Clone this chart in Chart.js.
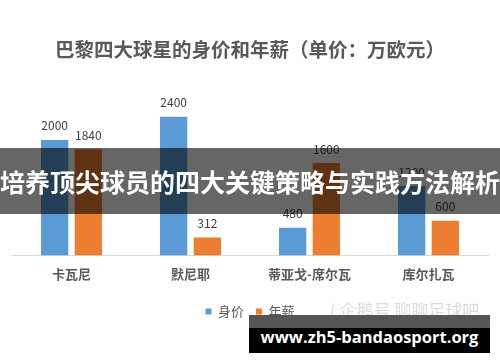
<!DOCTYPE html>
<html>
<head>
<meta charset="utf-8">
<script src="https://cdn.jsdelivr.net/npm/chart.js@4"></script>
<style>
  html, body { margin: 0; padding: 0; background: #fff; }
  #wrap { position: relative; width: 500px; height: 362px; overflow: hidden; }
  #chart { position: absolute; left: 0; top: 0; }
  .banner {
    position: absolute; left: 0; top: 148px; width: 500px; height: 66px;
    background: rgba(0,0,0,0.6); color: #fff;
    font: bold 25px "Noto Sans CJK SC"; line-height: 66px; text-align: center; white-space: nowrap;
  }
  .mark {
    position: absolute; left: 330px; top: 299px; color: #dcdcdc;
    font: 17px "Noto Sans CJK SC"; line-height: 22px; white-space: nowrap;
  }
  .url {
    position: absolute; left: 249px; top: 315px; width: 241px; height: 38px;
    background: linear-gradient(#555 0, #555 13px, #000 13px);
    color: #fff; font: bold 16.5px "Open Sans"; line-height: 44px; text-align: center; white-space: nowrap;
  }
</style>
</head>
<body>
<div id="wrap">
  <canvas id="chart" width="500" height="362"></canvas>
  <div class="mark">( 企鹅号 聊聊足球吧</div>
  <div class="banner">培养顶尖球员的四大关键策略与实践方法解析</div>
  <div class="url">www.zh5-bandaosport.org</div>
</div>
<script>
// chart data
const players = ["卡瓦尼", "默尼耶", "蒂亚戈-席尔瓦", "库尔扎瓦"];
const marketValue = [2000, 2400, 480, 1200];   // 身价
const salary = [1840, 312, 1600, 600];          // 年薪
const seriesNames = ["身价", "年薪"];

const FONT = '"Noto Sans CJK SC"';

// value labels over each bar
const valueLabels = {
  id: "valueLabels",
  afterDatasetsDraw(chart) {
    const ctx = chart.ctx;
    ctx.save();
    ctx.font = "12px " + FONT;
    ctx.fillStyle = "#404040";
    ctx.textAlign = "center";
    ctx.textBaseline = "middle";
    chart.data.datasets.forEach((ds, i) => {
      chart.getDatasetMeta(i).data.forEach((bar, j) => {
        ctx.fillText(ds.data[j], bar.x, bar.y - 14);
      });
    });
    ctx.restore();
  }
};

new Chart(document.getElementById("chart").getContext("2d"), {
  type: "bar",
  data: {
    labels: players,
    datasets: [
      { label: seriesNames[0], data: marketValue, backgroundColor: "#5b9bd5",
        categoryPercentage: 0.566, barPercentage: 0.81 },
      { label: seriesNames[1], data: salary, backgroundColor: "#ed7d31",
        categoryPercentage: 0.566, barPercentage: 0.81 }
    ]
  },
  options: {
    responsive: false,
    animation: false,
    layout: { padding: { left: 12, right: 12, top: 0, bottom: 34 } },
    plugins: {
      title: {
        display: true,
        text: "巴黎四大球星的身价和年薪（单价：万欧元）",
        color: "#595959",
        font: { family: FONT, size: 19.5, weight: "bold" },
        padding: { top: 38.3, bottom: 32 }
      },
      legend: {
        position: "bottom",
        labels: {
          boxWidth: 6, boxHeight: 6, padding: 12, color: "#595959",
          font: { family: FONT, size: 13 }
        }
      },
      tooltip: { enabled: false }
    },
    scales: {
      x: {
        grid: { display: false, drawTicks: false },
        border: { color: "#d9d9d9" },
        ticks: { color: "#595959", padding: 11, font: { family: FONT, size: 13, weight: "bold" } }
      },
      y: { display: false, min: 0, max: 2800 }
    }
  },
  plugins: [valueLabels]
});
</script>
</body>
</html>
